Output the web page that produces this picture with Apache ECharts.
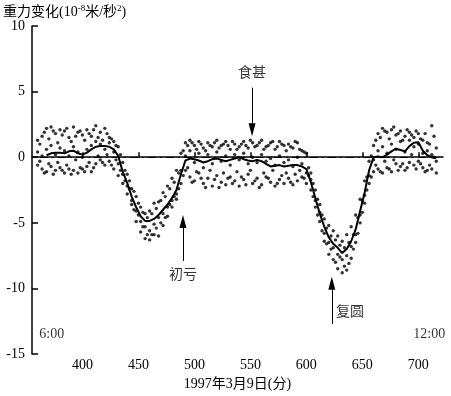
<!DOCTYPE html>
<html><head><meta charset="utf-8">
<script src="https://cdn.jsdelivr.net/npm/echarts@6/dist/echarts.min.js"></script>
<style>html,body{margin:0;padding:0;background:#fff}#c{width:451px;height:396px}</style>
</head><body><div id="c"></div>
<script>
// ---- data ----
const minutes = [360,364,368,372,376,380,384,388,392,396,400,404,408,412,416,420,424,428,432,436,440,444,448,452,456,460,464,468,472,476,480,484,488,492,496,500,504,508,512,516,520,524,528,532,536,540,544,548,552,556,560,564,568,572,576,580,584,588,592,596,600,604,608,612,616,620,624,628,632,636,640,644,648,652,656,660,664,668,672,676,680,684,688,692,696,700,704,708,712,716];
const upperDots = [1.3,1.6,2.2,2.3,1.8,2.1,2.0,1.5,2.3,1.9,1.7,2.1,1.6,2.4,1.9,2.2,1.5,1.2,0.8,-0.4,-1.3,-2.4,-3.0,-3.8,-4.3,-4.1,-3.5,-3.4,-2.7,-2.2,-1.6,-1.0,0.3,1.1,1.3,0.9,1.2,0.7,1.1,0.8,1.3,0.9,1.2,0.6,1.0,0.8,1.2,0.7,1.1,0.9,1.3,0.8,1.1,0.6,1.2,0.9,1.0,0.7,1.1,0.5,0.3,-1.2,-2.5,-3.6,-4.7,-5.2,-5.6,-6.0,-6.4,-5.9,-5.3,-4.4,-3.2,-1.8,-0.3,0.9,1.8,2.2,1.9,2.1,1.7,2.0,1.6,1.9,1.5,1.8,1.3,1.1,2.4,0.7];
const middleDots = [0.4,0.1,0.6,0.9,0.2,0.7,0.5,0.1,0.8,0.4,0.0,0.6,0.9,1.2,1.0,0.6,1.1,0.4,-0.5,-1.3,-2.2,-3.3,-4.1,-4.9,-5.3,-5.6,-5.1,-4.6,-4.3,-3.8,-3.3,-2.8,-1.0,0.1,0.5,-0.4,0.3,-0.8,0.2,-0.5,0.4,-0.3,0.1,-0.6,0.2,-0.2,0.3,-0.5,0.0,-0.4,0.2,-0.3,-0.1,-0.6,0.1,-0.4,-0.2,-0.7,0.0,-0.5,-1.2,-1.7,-3.3,-4.2,-5.8,-6.5,-6.9,-7.4,-7.8,-7.5,-6.8,-5.9,-4.4,-2.9,-1.4,-0.2,0.5,0.8,0.3,1.0,0.6,1.2,0.4,1.3,0.8,1.0,0.3,0.5,0.2,-0.3];
const lowerDots = [-0.6,-0.9,-1.1,-0.7,-1.0,-0.8,-1.2,-0.9,-1.0,-1.2,-0.9,-0.7,-1.1,-0.5,-0.2,-0.6,-0.3,-0.9,-1.4,-2.0,-2.8,-3.6,-4.9,-5.7,-6.2,-6.3,-5.9,-6.0,-5.2,-4.5,-3.8,-3.2,-2.0,-1.0,-1.5,-1.8,-1.2,-2.0,-1.6,-2.2,-1.4,-1.9,-2.1,-1.5,-1.8,-2.2,-1.7,-1.3,-2.0,-1.6,-2.1,-1.5,-1.9,-2.2,-1.7,-2.0,-1.6,-2.1,-1.8,-1.5,-2.0,-2.5,-3.8,-4.9,-6.4,-7.4,-7.8,-8.5,-8.8,-8.6,-7.7,-6.5,-5.0,-3.5,-2.0,-1.1,-0.9,-1.2,-0.8,-1.1,-0.5,-0.7,-1.0,-0.4,-0.6,-0.3,-0.8,-1.0,-0.9,-1.2];
const minutes2 = [362,366,370,374,378,382,386,390,394,398,402,406,410,414,418,422,426,430,434,438,442,446,450,454,458,462,466,470,474,478,482,486,490,494,498,502,506,510,514,518,522,526,530,534,538,542,546,550,554,558,562,566,570,574,578,582,586,590,594,598,602,606,610,614,618,622,626,630,634,638,642,646,650,654,658,662,666,670,674,678,682,686,690,694,698,702,706,710,714];
const extraHigh = [1.0,1.9,1.4,2.0,1.1,1.7,2.2,1.2,1.6,2.0,1.3,1.8,2.1,1.5,1.3,1.8,1.4,0.9,0.2,-1.0,-1.8,-2.6,-3.5,-4.2,-4.6,-4.3,-3.9,-3.3,-3.0,-2.4,-1.9,-1.2,0.5,0.9,1.1,0.6,1.0,0.5,0.9,1.1,0.7,1.0,0.9,1.2,0.6,1.0,0.9,1.3,0.8,1.1,0.6,0.9,1.2,0.8,1.0,0.5,0.8,1.2,0.6,0.4,-0.8,-2.0,-3.2,-4.4,-5.4,-6.0,-6.3,-6.7,-6.9,-6.5,-5.9,-4.6,-3.3,-1.5,0.1,1.3,1.5,2.0,1.4,2.3,1.8,1.3,2.1,1.7,2.0,1.4,1.8,1.0,1.6];
const extraLow = [-0.3,-1.2,-0.5,-1.3,-0.4,-1.0,-0.6,-1.3,-0.2,-0.8,-1.1,-0.4,-0.8,0.1,-0.4,0.2,-0.6,-0.2,-1.0,-1.8,-2.4,-4.0,-4.4,-5.3,-5.9,-5.9,-5.4,-5.0,-4.6,-3.6,-3.0,-2.4,-1.4,-0.8,-1.9,-1.1,-1.6,-2.3,-1.0,-1.7,-2.3,-1.2,-1.6,-2.0,-1.1,-1.5,-2.1,-1.0,-1.8,-2.3,-1.2,-1.6,-1.0,-2.0,-1.4,-1.2,-1.9,-1.3,-1.0,-1.6,-1.4,-3.0,-4.4,-5.6,-6.6,-7.0,-8.0,-7.6,-8.3,-8.1,-7.0,-5.8,-4.2,-2.5,-1.5,-0.6,-1.1,-0.3,-0.9,-0.2,-1.0,-0.5,-0.8,0.2,-0.9,-0.5,-1.1,-0.6,0.0];
const meanT = [368,372,376,380,384,388,392,396,400,404,408,412,416,420,424,428,432,436,440,444,448,452,456,460,464,468,472,476,480,484,488,492,496,500,504,508,512,516,520,524,528,532,536,540,544,548,552,556,560,564,568,572,576,580,584,588,592,596,600,604,608,612,616,620,624,628,632,636,640,644,648,652,656,660,664,668,672,676,680,684,688,692,696,700,704,708,712,716];
const meanV = [0.15,0.3,0.35,0.35,0.3,0.45,0.5,0.3,0.2,0.35,0.6,0.8,0.85,0.85,0.8,0.6,0.1,-1.1,-1.95,-3.0,-3.8,-4.5,-4.85,-4.85,-4.7,-4.4,-4.0,-3.6,-3.1,-2.5,-1.3,-0.25,-0.1,-0.15,-0.25,-0.4,-0.3,-0.15,-0.1,-0.2,-0.3,-0.2,-0.1,0.0,-0.15,-0.25,-0.3,-0.2,-0.3,-0.5,-0.7,-0.65,-0.6,-0.7,-0.65,-0.6,-0.6,-0.7,-0.9,-1.9,-3.1,-4.3,-5.3,-6.1,-6.6,-6.9,-7.3,-7.0,-6.4,-5.5,-4.1,-2.7,-1.0,0.0,0.05,0.0,0.2,0.45,0.65,0.55,0.45,0.85,1.1,1.15,0.5,0.15,0.0,-0.05];
const xTicks = [400,450,500,550,600,650,700];
// annotations: [x minute, value]
const arrows = [
  {name:'食甚', from:[551.5,5.3], to:[551.5,2.1], text:[551.5,6.4], align:'center'},
  {name:'初亏', from:[489.8,-7.9], to:[489.8,-4.9], text:[489.8,-9.0], align:'center'},
  {name:'复圆', from:[622.7,-12.7], to:[622.7,-9.6], text:[626.5,-11.8], align:'left'}
];
const timeLabels = [{text:'6:00', at:[372.6,-13.5]},{text:'12:00', at:[709.7,-13.5]}];

const serif = '"Liberation Serif","DejaVu Serif",serif';
const cjk = '"Liberation Serif","Noto Sans CJK SC",serif';

function pairs(xs, ys){ return xs.map((x,i)=>[x, ys[i]]); }
const dotStyle = {type:'scatter', symbolSize:3.4, itemStyle:{color:'#000'}, silent:true, z:2};

const chart = echarts.init(document.getElementById('c'), null, {renderer:'canvas'});
chart.setOption({
  animation:false,
  backgroundColor:'#fff',
  grid:{left:32, right:8, top:26, bottom:36, containLabel:false},
  xAxis:{type:'value', min:355, max:722,
    name:'1997年3月9日(分)', nameLocation:'middle', nameGap:19,
    nameTextStyle:{fontFamily:cjk, fontSize:14, color:'#000'},
    axisLine:{lineStyle:{color:'#000', width:1.5}},
    axisTick:{inside:true, length:5, customValues:xTicks, lineStyle:{color:'#000', width:1.5}},
    axisLabel:{customValues:xTicks, fontFamily:serif, fontSize:14, color:'#000', margin:4},
    splitLine:{show:false}},
  yAxis:{type:'value', min:-15, max:10, interval:5,
    axisLine:{show:true, lineStyle:{color:'#000', width:1.5}},
    axisTick:{show:true, inside:true, length:6, lineStyle:{color:'#000', width:1.5}},
    axisLabel:{fontFamily:serif, fontSize:14, color:'#000', margin:7},
    splitLine:{show:false}},
  graphic:[{type:'text', left:3, top:4, style:{
    text:'{a|重力变化(10}{s|-8}{a|米/秒}{s|2}{a|)}',
    rich:{a:{fontFamily:cjk, fontSize:14, fill:'#000', verticalAlign:'bottom'},
          s:{fontFamily:serif, fontSize:9, fill:'#000', verticalAlign:'top', padding:[0,0,6,0]}}}}],
  series:[
    Object.assign({name:'upper', data:pairs(minutes, upperDots)}, dotStyle),
    Object.assign({name:'middle', data:pairs(minutes, middleDots)}, dotStyle),
    Object.assign({name:'lower', data:pairs(minutes, lowerDots)}, dotStyle),
    Object.assign({name:'extraHigh', data:pairs(minutes2, extraHigh)}, dotStyle),
    Object.assign({name:'extraLow', data:pairs(minutes2, extraLow)}, dotStyle),
    {type:'line', name:'mean', data:pairs(meanT, meanV), showSymbol:false, symbol:'none',
     lineStyle:{color:'#000', width:2}, z:3, silent:true,
     markLine:{silent:true, symbol:['none','none'], label:{show:false}, z:1,
       lineStyle:{color:'#000', width:1, type:[8,4,2,4]},
       data:[[{coord:[362,0]},{coord:[718,0]}]]}},
    {type:'line', name:'arrows', data:[], silent:true,
     markLine:{silent:true, symbol:['none','triangle'], symbolSize:[7,13], label:{show:false},
       lineStyle:{color:'#000', width:1, type:'solid'},
       data:arrows.map(a=>[{coord:a.from},{coord:a.to}])}},
    {type:'scatter', name:'notes', symbolSize:0, silent:true,
     data:arrows.map(a=>({value:a.text, name:a.name, label:{align:a.align}})).concat(
       timeLabels.map(t=>({value:t.at, name:t.text, label:{fontFamily:serif}}))),
     label:{show:true, position:'inside', formatter:p=>p.name, fontFamily:cjk, fontSize:14, color:'#000'}}
  ]
});
</script></body></html>
